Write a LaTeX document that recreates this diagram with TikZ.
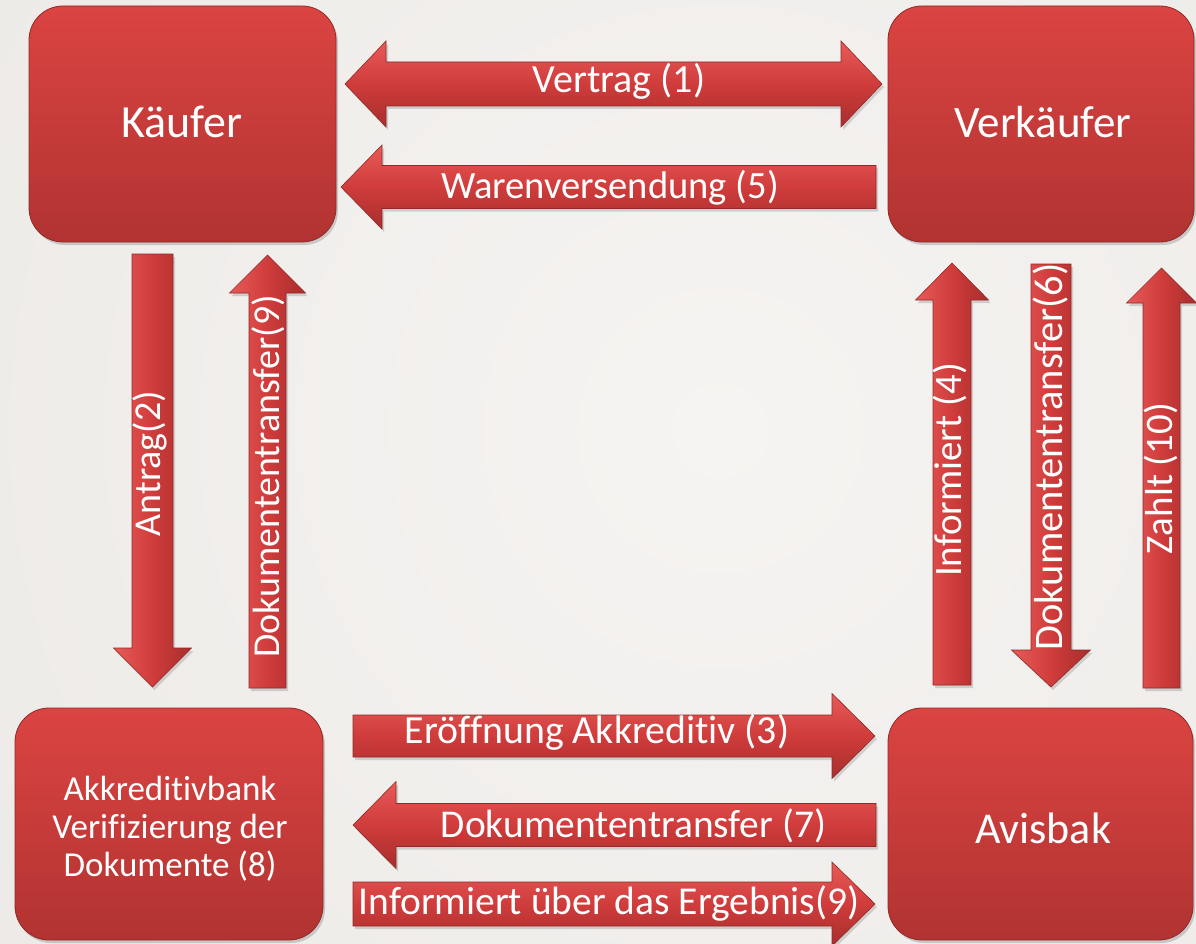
\documentclass[tikz,border=0pt]{standalone}
\usepackage{fontspec}
\setmainfont{Carlito}[Ligatures={NoCommon}]
\usetikzlibrary{calc,shadows}
\definecolor{bgin}{HTML}{F6F4F2}
\definecolor{bgout}{HTML}{E3E0DC}
\definecolor{boxtop}{HTML}{DB4442}
\definecolor{boxbot}{HTML}{B13331}
\definecolor{boxedge}{HTML}{8F2A28}
\definecolor{arrtop}{HTML}{E85B58}
\definecolor{arrmid}{HTML}{CF3C3B}
\definecolor{arrbot}{HTML}{A72E2D}
\pgfdeclareradialshading{bgshade}{\pgfpoint{0bp}{0bp}}{color(0bp)=(bgin); color(50bp)=(bgout)}

\newcommand{\sarrow}[6]{%
  \coordinate (hb) at ($(#2)!#5!(#1)$);
  \path[#6] ($(#1)!#3!90:(#2)$) -- ($(hb)!#3!-90:(#1)$) -- ($(hb)!#4!-90:(#1)$) -- (#2)
     -- ($(hb)!#4!90:(#1)$) -- ($(hb)!#3!90:(#1)$) -- ($(#1)!#3!-90:(#2)$) -- cycle;
}
\newcommand{\darrow}[6]{%
  \coordinate (ha) at ($(#1)!#5!(#2)$);
  \coordinate (hb) at ($(#2)!#5!(#1)$);
  \path[#6] (#1) -- ($(ha)!#4!90:(#2)$) -- ($(ha)!#3!90:(#2)$) -- ($(hb)!#3!-90:(#1)$)
     -- ($(hb)!#4!-90:(#1)$) -- (#2) -- ($(hb)!#4!90:(#1)$) -- ($(hb)!#3!90:(#1)$)
     -- ($(ha)!#3!-90:(#2)$) -- ($(ha)!#4!-90:(#2)$) -- cycle;
}

\tikzset{
  box/.style={draw=boxedge, line width=0.8pt, rounded corners=34pt,
    top color=boxtop, bottom color=boxbot, inner sep=0pt,
    drop shadow={shadow xshift=2pt, shadow yshift=-3pt, opacity=0.35}},
  harrow/.style={draw=boxedge, line width=0.6pt, top color=arrtop, bottom color=arrbot, middle color=arrmid,
    drop shadow={shadow xshift=2pt, shadow yshift=-3pt, opacity=0.3}},
  varrow/.style={draw=boxedge, line width=0.6pt, left color=arrtop, right color=arrbot, middle color=arrmid,
    drop shadow={shadow xshift=2pt, shadow yshift=-3pt, opacity=0.3}},
  lbl/.style={text=white, inner sep=0pt, anchor=base},
  vlbl/.style={lbl, rotate=90},
  fs/.style={font=\fontsize{#1}{#1}\selectfont}
}

\begin{document}
\begin{tikzpicture}[x=1pt,y=-1pt]
\useasboundingbox (0,0) rectangle (1196,944);
\clip (0,0) rectangle (1196,944);
\shade[shading=bgshade] (720,430) circle (900);

% boxes
\node[box, minimum width=307pt, minimum height=236pt] (kaeufer) at (182.5,124) {};
\node[box, minimum width=306pt, minimum height=236pt] (verkaeufer) at (1041,124) {};
\node[box, minimum width=308pt, minimum height=232pt] (akkr) at (169,824) {};
\node[box, minimum width=305pt, minimum height=232pt] (avis) at (1040.5,824) {};

\node[lbl, fs=46] (kaeuferT) at (182,138) {Käufer};
\node[lbl, fs=45] (verkaeuferT) at (1043,138) {Verkäufer};
\node[lbl, fs=44] (avisT) at (1043,843) {Avisbak};
\node[lbl, align=center, font=\fontsize{35}{38}\selectfont] (akkrT) at (170,876) {Akkreditivbank\\Verifizierung der\\Dokumente (8)};

% arrow end points
\coordinate (v1L) at (345,84);   \coordinate (v1R) at (882,84);
\coordinate (w5T) at (876,187);  \coordinate (w5P) at (341,187);
\coordinate (a2T) at (152.5,254); \coordinate (a2P) at (152.5,687);
\coordinate (d9T) at (267.5,688); \coordinate (d9P) at (267.5,255);
\coordinate (i4T) at (952,685);  \coordinate (i4P) at (952,263);
\coordinate (d6T) at (1051,264); \coordinate (d6P) at (1051,687);
\coordinate (z10T) at (1161.5,688); \coordinate (z10P) at (1161.5,268);
\coordinate (e3T) at (353,736);  \coordinate (e3P) at (875,736);
\coordinate (d7T) at (876,825); \coordinate (d7P) at (353,825);
\coordinate (i9T) at (353,904);  \coordinate (i9P) at (875,904);

\darrow{v1L}{v1R}{22pt}{43pt}{41pt}{harrow}
\sarrow{w5T}{w5P}{21.5pt}{42pt}{41pt}{harrow}
\sarrow{a2T}{a2P}{20.5pt}{39pt}{39pt}{varrow}
\sarrow{d9T}{d9P}{18.5pt}{38pt}{38pt}{varrow}
\sarrow{i4T}{i4P}{19pt}{36.5pt}{37pt}{varrow}
\sarrow{d6T}{d6P}{20pt}{39.5pt}{37pt}{varrow}
\sarrow{z10T}{z10P}{18.5pt}{35pt}{35pt}{varrow}
\sarrow{e3T}{e3P}{21pt}{42.5pt}{43pt}{harrow}
\sarrow{d7T}{d7P}{21.5pt}{43.5pt}{43pt}{harrow}
\sarrow{i9T}{i9P}{22pt}{42pt}{43pt}{harrow}

% arrow labels
\node[lbl, fs=40] (v1Lbl) at (619,93) {Vertrag (1)};
\node[lbl, fs=38.6] (w5Lbl) at (610,198) {Warenversendung (5)};
\node[lbl, fs=39.8] (e3Lbl) at (597,743) {Eröffnung Akkreditiv (3)};
\node[lbl, fs=39.4] (d7Lbl) at (633.5,837) {Dokumententransfer (7)};
\node[lbl, fs=39.5] (i9Lbl) at (609,914) {Informiert über das Ergebnis(9)};
\node[vlbl, fs=38] (a2Lbl) at (160,463.5) {Antrag(2)};
\node[vlbl, fs=38] (d9Lbl) at (279,476.5) {Dokumententransfer(9)};
\node[vlbl, fs=39] (i4Lbl) at (961,470) {Informiert (4)};
\node[vlbl, fs=40.5] (d6Lbl) at (1062,457) {Dokumententransfer(6)};
\node[vlbl, fs=39] (z10Lbl) at (1172,478.5) {Zahlt (10)};
\end{tikzpicture}
\end{document}
